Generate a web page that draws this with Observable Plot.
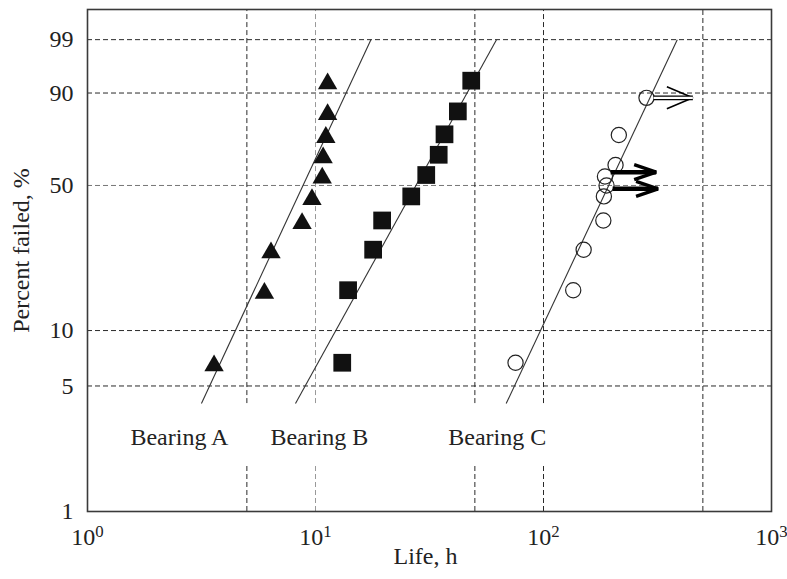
<!DOCTYPE html>
<html><head><meta charset="utf-8">
<script src="https://cdn.jsdelivr.net/npm/d3@7"></script>
<script src="https://cdn.jsdelivr.net/npm/@observablehq/plot@0.6"></script>
<style>
body{margin:0;background:#fff}
svg{font-family:"Liberation Serif","Times New Roman",serif}
</style>
</head><body><div id="chart"></div>
<script>
// ---- data ----
// Bearing A (filled triangles)
const lifeA = [3.59, 5.97, 6.38, 8.73, 9.65, 10.7, 10.8, 11.1, 11.3, 11.3];
const pctA  = [6.7, 16.3, 26.0, 35.6, 45.2, 54.8, 64.4, 74.0, 83.7, 93.3];
// Bearing B (filled squares)
const lifeB = [13.1, 13.9, 17.9, 19.6, 26.3, 30.6, 34.7, 36.8, 42.1, 48.2];
const pctB  = [6.7, 16.3, 26.0, 35.6, 45.2, 54.8, 64.4, 74.0, 83.7, 93.3];
// Bearing C (open circles)
const lifeC = [75.4, 135, 150, 183, 184, 189, 186, 207, 214, 283];
const pctC  = [6.7, 16.3, 26.0, 35.6, 45.2, 50.0, 54.1, 59.5, 73.7, 88.5];
// fitted Weibull lines (end points)
const fitLifeStart = [3.16, 8.17, 68.6];
const fitLifeEnd   = [17.5, 62.2, 386];
const fitPctStart  = [4, 4, 4];
const fitPctEnd    = [99, 99, 99];
// suspended (censored) items, drawn as arrows
const suspKind      = ["open", "bold", "bold"];
const suspLifeStart = [304, 197, 201];
const suspLifeEnd   = [452, 312, 318];
const suspPct       = [88.5, 56.1, 48.5];
// series labels
const labelText = ["Bearing A", "Bearing B", "Bearing C"];
const labelLife = [2.53, 10.4, 62.7];
const labelPct  = [2.59, 2.59, 2.59];
// axes & grid
const xTicks = [1, 10, 100, 1000];
const yTicks = [1, 5, 10, 50, 90, 99];
const xGrid = [5, 10, 50, 100, 500];
const xGridBroken = [true, true, true, true, false];
const gridGapPct = [1.85, 4];
const yGrid = [5, 10, 50, 90, 99];
const yMinPct = 1, yMaxPct = 99.89;

// ---- Weibull probability transform ----
const W = p => Math.log(-Math.log(1 - p / 100));
const pts = (life, pct) => life.map((x, i) => ({x, y: W(pct[i])}));

const vSegs = [];
xGrid.forEach((v, i) => {
  if (xGridBroken[i]) {
    vSegs.push({x: v, y1: W(yMinPct), y2: W(gridGapPct[0])});
    vSegs.push({x: v, y1: W(gridGapPct[1]), y2: W(yMaxPct)});
  } else vSegs.push({x: v, y1: W(yMinPct), y2: W(yMaxPct)});
});
const fits = fitLifeStart.map((a, i) => ({x1: a, x2: fitLifeEnd[i], y1: W(fitPctStart[i]), y2: W(fitPctEnd[i])}));
const susp = suspKind.map((k, i) => ({k, x1: suspLifeStart[i], x2: suspLifeEnd[i], y: W(suspPct[i])}));
const labels = labelText.map((t, i) => ({t, x: labelLife[i], y: W(labelPct[i])}));

function chevron(len, half, sw) {
  return (color) => {
    const m = d3.create("svg:marker")
      .attr("viewBox", `${-len - 6} ${-half - 6} ${len + 12} ${2 * half + 12}`)
      .attr("markerUnits", "userSpaceOnUse")
      .attr("markerWidth", len + 12).attr("markerHeight", 2 * half + 12)
      .attr("refX", 0).attr("refY", 0).attr("orient", "auto")
      .attr("overflow", "visible");
    m.append("path").attr("d", `M${-len},${-half}L0,0L${-len},${half}`)
      .attr("fill", "none").attr("stroke", color).attr("stroke-width", sw)
      .attr("stroke-opacity", 1).attr("stroke-dasharray", "none");
    return m.node();
  };
}

const gridColor = "#2a2a2a";
const FS = 24;
const chart = Plot.plot({
  width: 787, height: 579,
  marginLeft: 87, marginRight: 16, marginTop: 9, marginBottom: 68,
  style: {fontFamily: "'Liberation Serif', 'Times New Roman', serif", fontSize: FS + "px", color: "#222", background: "#fff", overflow: "visible"},
  x: {type: "log", domain: [1, 1000], label: null},
  y: {domain: [W(yMinPct), W(yMaxPct)], label: null},
  marks: [
    Plot.ruleY(yGrid.map(W), {stroke: d => Math.abs(d - W(50)) < 1e-9 ? "#777" : gridColor, strokeDasharray: "5,3", strokeWidth: 1}),
    Plot.ruleX(vSegs, {x: "x", y1: "y1", y2: "y2", stroke: d => d.x === 10 ? "#999" : gridColor, strokeDasharray: "5,3", strokeWidth: 1}),
    Plot.frame({stroke: "#3a3a3a", strokeWidth: 1.6}),
    Plot.axisX(xTicks, {tickSize: 0, tickPadding: 16, tickFormat: d => "10^" + Math.round(Math.log10(d)), fontSize: FS}),
    Plot.axisY(yTicks.map(W), {tickSize: 0, tickPadding: 14, fontSize: FS,
      tickFormat: d => String(yTicks.find(p => Math.abs(W(p) - d) < 1e-9))}),
    Plot.link(fits, {x1: "x1", x2: "x2", y1: "y1", y2: "y2", stroke: "#333", strokeWidth: 1.1}),
    Plot.dot(pts(lifeA, pctA), {x: "x", y: "y", symbol: "triangle", r: 7.2, fill: "#111", stroke: "none", dy: 3}),
    Plot.dot(pts(lifeB, pctB), {x: "x", y: "y", symbol: "square", r: 10, fill: "#111", stroke: "none"}),
    Plot.dot(pts(lifeC, pctC), {x: "x", y: "y", symbol: "circle", r: 7.6, fill: "none", stroke: "#222", strokeWidth: 1.2}),
    // suspension arrows
    Plot.link(susp.filter(d => d.k === "open"), {x1: "x1", x2: "x2", y1: "y", y2: "y", stroke: "black", strokeWidth: 4.6, markerEnd: chevron(26, 11, 1.6)}),
    Plot.link(susp.filter(d => d.k === "open"), {x1: "x1", x2: "x2", y1: "y", y2: "y", stroke: "white", strokeWidth: 2.2, insetEnd: 3}),
    Plot.link(susp.filter(d => d.k === "bold"), {x1: "x1", x2: "x2", y1: "y", y2: "y", stroke: "black", strokeWidth: 4.5, markerEnd: chevron(22, 7.5, 3.4)}),
    Plot.text(labels, {x: "x", y: "y", text: "t", fontSize: FS, fill: "#222"}),
    Plot.text(["Life, h"], {frameAnchor: "bottom", dy: 52, dx: -4, fontSize: FS, fill: "#222"}),
    Plot.text(["Percent failed, %"], {frameAnchor: "left", textAnchor: "middle", rotate: -90, dx: -66, dy: -10, fontSize: FS, fill: "#222"})
  ]
});
// superscript exponents on x tick labels
chart.querySelectorAll("text").forEach(t => {
  const m = /^10\^(\d)$/.exec(t.textContent);
  if (m) {
    t.textContent = "10";
    const s = document.createElementNS("http://www.w3.org/2000/svg", "tspan");
    s.setAttribute("dy", "-0.45em");
    s.setAttribute("font-size", "70%");
    s.textContent = m[1];
    t.appendChild(s);
  }
});
document.getElementById("chart").appendChild(chart);
</script>
</body></html>
